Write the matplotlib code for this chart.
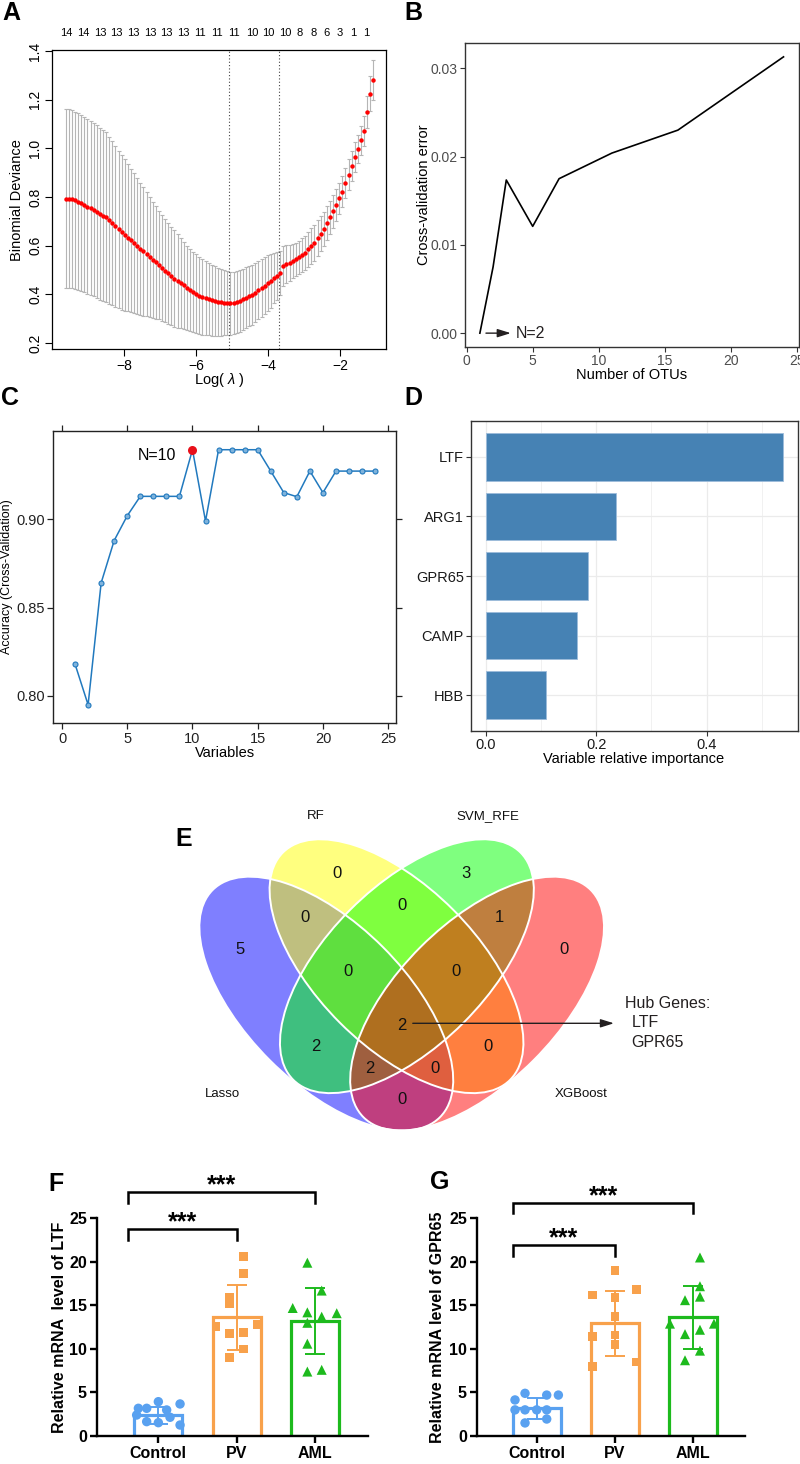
import numpy as np
import matplotlib
matplotlib.use("Agg")
import matplotlib.pyplot as plt
from matplotlib.patches import Ellipse
from matplotlib.transforms import blended_transform_factory

plt.rcParams['font.family'] = ['Liberation Sans', 'DejaVu Sans']
plt.rcParams['mathtext.fontset'] = 'custom'
plt.rcParams['mathtext.it'] = 'Liberation Sans:italic'
plt.rcParams['mathtext.rm'] = 'Liberation Sans'

# =====================================================
# DATA
# =====================================================

# A - lasso cross-validation path (100 lambda values, log scale grid)
lasso_loglam = np.linspace(-9.62, -1.07, 100)
lasso_mean = [
    0.793, 0.793, 0.791, 0.786, 0.780, 0.774, 0.767, 0.760, 0.754, 0.748,
    0.739, 0.731, 0.723, 0.716, 0.704, 0.691, 0.679, 0.666, 0.654, 0.643,
    0.632, 0.621, 0.609, 0.598, 0.587, 0.576, 0.565, 0.553, 0.542, 0.531,
    0.520, 0.509, 0.497, 0.486, 0.475, 0.464, 0.455, 0.445, 0.436, 0.426,
    0.418, 0.410, 0.402, 0.394, 0.389, 0.385, 0.380, 0.375, 0.372, 0.369,
    0.367, 0.365, 0.363, 0.362, 0.364, 0.368, 0.373, 0.379, 0.385, 0.392,
    0.398, 0.406, 0.416, 0.426, 0.435, 0.445, 0.455, 0.465, 0.475, 0.486,
    0.516, 0.523, 0.529, 0.536, 0.544, 0.552, 0.561, 0.571, 0.584, 0.597,
    0.611, 0.630, 0.649, 0.668, 0.693, 0.717, 0.741, 0.768, 0.795, 0.822,
    0.856, 0.892, 0.928, 0.963, 0.997, 1.033, 1.070, 1.150, 1.225, 1.281,
]
lasso_se = [
    0.369, 0.369, 0.367, 0.365, 0.363, 0.362, 0.360, 0.359, 0.358, 0.356,
    0.355, 0.353, 0.351, 0.349, 0.344, 0.337, 0.331, 0.324, 0.318, 0.311,
    0.303, 0.295, 0.288, 0.280, 0.272, 0.264, 0.255, 0.247, 0.239, 0.231,
    0.223, 0.218, 0.213, 0.208, 0.203, 0.198, 0.192, 0.185, 0.179, 0.173,
    0.168, 0.165, 0.162, 0.159, 0.156, 0.152, 0.149, 0.145, 0.142, 0.140,
    0.137, 0.134, 0.131, 0.129, 0.128, 0.128, 0.127, 0.126, 0.125, 0.124,
    0.123, 0.122, 0.120, 0.119, 0.117, 0.116, 0.110, 0.103, 0.097, 0.090,
    0.082, 0.079, 0.075, 0.071, 0.068, 0.068, 0.069, 0.070, 0.072, 0.074,
    0.075, 0.074, 0.072, 0.070, 0.069, 0.068, 0.068, 0.066, 0.064, 0.062,
    0.062, 0.062, 0.062, 0.061, 0.059, 0.060, 0.062, 0.066, 0.071, 0.082,
]
lam_min_log = -5.08
lam_1se_log = -3.69
top_pos = [-9.59, -9.13, -8.67, -8.20, -7.74, -7.28, -6.81, -6.35, -5.89, -5.43,
           -4.96, -4.45, -3.99, -3.53, -3.11, -2.74, -2.37, -2.00, -1.63, -1.26]
top_nonzero = [14, 14, 13, 13, 13, 13, 13, 13, 11, 11, 11, 10, 10, 10, 8, 8, 6, 3, 1, 1]

# B - cross-validation error vs number of features
otu_n = [1, 2, 3, 5, 7, 11, 16, 24]
cv_error = [0.0, 0.0075, 0.01735, 0.0121, 0.0175, 0.0204, 0.0230, 0.0313]

# C - accuracy vs number of variables
n_vars = list(range(1, 25))
accuracy = [0.818, 0.795, 0.864, 0.888, 0.902, 0.913, 0.913, 0.913, 0.913, 0.9394,
            0.899, 0.9394, 0.9394, 0.9394, 0.9394, 0.9273, 0.9151, 0.9128, 0.9273, 0.9151,
            0.9273, 0.9273, 0.9273, 0.9273]
best_n = 10

# D - variable importance
imp_genes = ['HBB', 'CAMP', 'GPR65', 'ARG1', 'LTF']
imp_values = [0.109, 0.165, 0.186, 0.2365, 0.539]

# E - Venn
venn_sets = ['Lasso', 'RF', 'SVM_RFE', 'XGBoost']
venn_counts = [0, 3, 0, 0, 1, 5, 0, 0, 0, 2, 2, 0, 2, 0, 0]
hub_genes = ['LTF', 'GPR65']

# F / G - qPCR
groups = ['Control', 'PV', 'AML']
ltf_mean = [2.38, 13.64, 13.2]
ltf_sd = [1.0, 3.72, 3.83]
ltf_points = [
    [3.94, 3.68, 3.18, 3.18, 2.99, 2.41, 2.15, 1.65, 1.53, 1.26],
    [20.6, 18.7, 15.9, 15.2, 12.6, 12.8, 11.8, 11.9, 10.0, 9.05],
    [19.9, 16.7, 14.7, 14.2, 13.7, 14.1, 13.0, 10.6, 7.4, 7.6],
]
gpr65_mean = [3.2, 12.95, 13.64]
gpr65_sd = [1.22, 3.72, 3.6]
gpr65_points = [
    [4.14, 4.9, 4.7, 4.7, 3.0, 3.0, 3.0, 3.0, 1.5, 1.95],
    [19.0, 16.2, 15.9, 16.8, 13.7, 11.4, 11.6, 10.5, 8.0, 8.5],
    [20.5, 17.2, 16.0, 15.6, 12.9, 12.9, 12.2, 11.7, 9.8, 8.7],
]

# =====================================================
# LAYOUT HELPERS
# =====================================================

W, H = 800, 1464
fig = plt.figure(figsize=(W / 100, H / 100), dpi=100)


def add_ax(left, top, right, bottom):
    return fig.add_axes([left / W, 1 - bottom / H, (right - left) / W, (bottom - top) / H])


def ftext(x, y, s, **kw):
    kw.setdefault('ha', 'center')
    kw.setdefault('va', 'center')
    return fig.text(x / W, 1 - y / H, s, **kw)


for letter, (lx, ly) in zip('ABCDEFG', [(11, 13), (413, 13), (10, 398), (413, 398),
                                        (184, 839), (56, 1184), (440, 1182)]):
    ftext(lx, ly, letter, fontsize=18, fontweight='bold')

# =====================================================
# A
# =====================================================
axA = add_ax(52, 50, 386, 349)
axA.errorbar(lasso_loglam, lasso_mean, yerr=lasso_se, fmt='none', ecolor='#B5B5B5',
             elinewidth=0.8, capsize=1.6, capthick=0.8, zorder=1)
axA.plot(lasso_loglam, lasso_mean, 'o', color='#FF0000', ms=3.2, mec='none', zorder=3)
for v in (lam_min_log, lam_1se_log):
    axA.axvline(v, color='#444444', ls=(0, (1, 2)), lw=0.8, zorder=2)
axA.set_xlim(-10.0, -0.722)
axA.set_ylim(0.1746, 1.404)
axA.set_xticks([-8, -6, -4, -2])
axA.set_yticks([0.2, 0.4, 0.6, 0.8, 1.0, 1.2, 1.4])
axA.set_yticklabels(['0.2', '0.4', '0.6', '0.8', '1.0', '1.2', '1.4'], rotation=90, va='center')
axA.tick_params(direction='out', length=5, width=0.8, labelsize=10, pad=2)
for sp in axA.spines.values():
    sp.set_linewidth(0.9)
trA = blended_transform_factory(axA.transData, axA.transAxes)
for p, n in zip(top_pos, top_nonzero):
    axA.text(p, 1.057, str(n), transform=trA, ha='center', va='center', fontsize=8)
ftext(17, 200, 'Binomial Deviance', rotation=90, fontsize=10.5)
ftext(219, 380, 'Log( $\\lambda$ )', fontsize=10.5)

# =====================================================
# B
# =====================================================
axB = add_ax(464.7, 43, 798.7, 347)
axB.plot(otu_n, cv_error, color='black', lw=1.2)
axB.set_xlim(-0.15, 25.15)
axB.set_ylim(-0.00157, 0.03287)
axB.set_xticks([0, 5, 10, 15, 20, 25])
axB.set_yticks([0.0, 0.01, 0.02, 0.03])
axB.set_yticklabels(['0.00', '0.01', '0.02', '0.03'])
axB.tick_params(direction='out', length=3.5, width=0.8, colors='#333333',
                labelcolor='#4D4D4D', labelsize=10, pad=1.5)
for sp in axB.spines.values():
    sp.set_color('#333333')
    sp.set_linewidth(1.0)
axB.annotate('', xy=(3.55, 0), xytext=(1.25, 0),
             arrowprops=dict(arrowstyle='-|>,head_length=0.8,head_width=0.25',
                             color='#231F20', lw=1.0))
axB.text(3.75, 0, 'N=2', ha='left', va='center', fontsize=11.5, color='#231F20')
ftext(424, 195, 'Cross-validation error', rotation=90, fontsize=10.5)
ftext(632, 375, 'Number of OTUs', fontsize=10.5)

# =====================================================
# C
# =====================================================
axC = add_ax(53, 431, 396, 723.3)
blue_c = '#2179BE'
axC.plot(n_vars, accuracy, '-o', color=blue_c, lw=1.1, ms=3.6, mfc='#7FB3DC',
         mec=blue_c, mew=0.8)
axC.plot(best_n, accuracy[best_n - 1], 'o', color='#E8101A', ms=6.5, mec='none')
axC.text(7.3, 0.9362, 'N=10', ha='center', va='center', fontsize=11.5)
axC.set_xlim(-0.69, 25.6)
axC.set_ylim(0.7845, 0.95)
axC.set_xticks([0, 5, 10, 15, 20, 25])
axC.set_yticks([0.80, 0.85, 0.90])
axC.set_yticklabels(['0.80', '0.85', '0.90'])
axC.tick_params(direction='out', length=4.5, width=0.9, labelsize=10.5, pad=1.5,
                top=True, right=True, labeltop=False, labelright=False, colors='#222222')
for sp in axC.spines.values():
    sp.set_linewidth(1.0)
    sp.set_color('#222222')
ftext(7, 577, 'Accuracy (Cross-Validation)', rotation=90, fontsize=9)
ftext(225, 753, 'Variables', fontsize=10.5)

# =====================================================
# D
# =====================================================
axD = add_ax(470.7, 421, 798.3, 731)
ypos = np.arange(1, len(imp_genes) + 1)
axD.set_axisbelow(True)
axD.set_xticks([0.0, 0.2, 0.4])
axD.set_xticks([0.1, 0.3, 0.5], minor=True)
axD.grid(which='major', color='#EBEBEB', lw=0.9)
axD.grid(which='minor', axis='x', color='#EBEBEB', lw=0.5)
axD.barh(ypos, imp_values, height=0.8, color='#4682B4', edgecolor='#9DBCDB', linewidth=0.6)
axD.set_yticks(ypos)
axD.set_yticklabels(imp_genes)
axD.set_xticklabels(['0.0', '0.2', '0.4'])
axD.set_xlim(-0.027, 0.566)
axD.set_ylim(0.4, 5.6)
axD.tick_params(which='major', direction='out', length=3.5, width=0.8, colors='#333333',
                labelcolor='#1A1A1A', labelsize=10.5, pad=1.5)
axD.tick_params(which='minor', length=0)
for sp in axD.spines.values():
    sp.set_color('#333333')
    sp.set_linewidth(1.0)
ftext(634, 759, 'Variable relative importance', fontsize=10.5)

# =====================================================
# E - four-set Venn (drawn in pixel units, y downwards)
# =====================================================
axE = add_ax(130, 795, 800, 1160)
axE.set_xlim(130, 800)
axE.set_ylim(1160, 795)
axE.axis('off')
ell_a, ell_b = 160.7, 80.0
ell_centers = [(326.3, 1003.6), (396.5, 966.2), (406.9, 966.2), (477.1, 1003.6)]
ell_angles = [45, 45, -45, -45]
ell_colors = ['#0000FF', '#FFFF00', '#00FF00', '#FF0000']
for (cx, cy), ang, col in zip(ell_centers, ell_angles, ell_colors):
    axE.add_patch(Ellipse((cx, cy), 2 * ell_a, 2 * ell_b, angle=ang,
                          facecolor=col, alpha=0.5, edgecolor='none'))
for (cx, cy), ang in zip(ell_centers, ell_angles):
    axE.add_patch(Ellipse((cx, cy), 2 * ell_a, 2 * ell_b, angle=ang,
                          fill=False, edgecolor='white', lw=1.4))
count_pos = [(336.7, 873.3), (466, 873.3), (305, 917.3), (401.7, 906), (499.3, 917.3),
             (240, 949.3), (564, 949.3), (348.3, 971.7), (456, 971.7), (401.7, 1025),
             (316, 1046.7), (488.3, 1046.7), (370, 1068.3), (435, 1068.3), (401.7, 1100)]
for (px, py), c in zip(count_pos, venn_counts):
    axE.text(px, py, str(c), ha='center', va='center', fontsize=12, color='#111111')
set_label_pos = [(222.3, 1094), (315.4, 816), (487.9, 816), (581, 1094)]
for (px, py), s in zip(set_label_pos, venn_sets):
    axE.text(px, py, s, ha='center', va='center', fontsize=9.5, color='#111111')
axE.annotate('', xy=(616.7, 1023.3), xytext=(410, 1023.3),
             arrowprops=dict(arrowstyle='-|>,head_length=0.8,head_width=0.25',
                             color='#231F20', lw=1.0))
axE.text(625, 1003.3, 'Hub Genes:', ha='left', va='center', fontsize=11.5, color='#231F20')
for i, g in enumerate(hub_genes):
    axE.text(631.7, 1022.3 + 20 * i, g, ha='left', va='center', fontsize=11.5, color='#231F20')

# =====================================================
# F / G - qPCR bars
# =====================================================
grp_colors = ['#59A1F0', '#F8A14B', '#1DBA1D']
grp_markers = ['o', 's', '^']
grp_msize = [46, 40, 52]
jitter_F = [
    [0.0, 0.277, -0.255, -0.149, 0.106, -0.277, 0.149, -0.149, 0.0, 0.277],
    [0.085, 0.085, -0.094, -0.094, -0.264, 0.264, -0.094, 0.085, 0.085, -0.094],
    [-0.098, 0.085, -0.285, -0.098, 0.085, 0.277, -0.098, -0.098, -0.098, 0.085],
]
jitter_G = [
    [-0.277, -0.149, 0.128, 0.277, -0.277, -0.149, 0.0, 0.128, -0.149, 0.128],
    [0.0, -0.285, 0.0, 0.277, 0.0, -0.285, 0.0, 0.0, -0.285, 0.277],
    [0.085, 0.085, 0.085, -0.106, -0.298, 0.264, 0.085, -0.106, 0.085, -0.106],
]


def qpcr_panel(rect, xlim, means, sds, points, jitter, brackets, ylabel, ylab_x):
    ax = add_ax(*rect)
    xs = np.arange(len(groups))
    ax.bar(xs, means, width=0.61, facecolor='white', edgecolor=grp_colors, linewidth=2.3, zorder=2)
    for i in xs:
        ax.errorbar(i, means[i], yerr=sds[i], color=grp_colors[i], lw=1.4,
                    capsize=7, capthick=1.4, zorder=3)
        ax.scatter(i + np.array(jitter[i]), points[i], marker=grp_markers[i], s=grp_msize[i],
                   color=grp_colors[i], edgecolors='none', zorder=4)
    ax.set_xlim(*xlim)
    ax.set_ylim(0, 25)
    ax.set_yticks([0, 5, 10, 15, 20, 25])
    ax.set_xticks(xs)
    ax.set_xticklabels(groups, fontweight='bold', fontsize=11.5)
    for lab in ax.get_yticklabels():
        lab.set_fontweight('bold')
    ax.tick_params(direction='out', length=5, width=1.7, labelsize=11.5, pad=2)
    for side in ('top', 'right'):
        ax.spines[side].set_visible(False)
    for side in ('left', 'bottom'):
        ax.spines[side].set_linewidth(1.7)
    ax.spines['left'].set_bounds(0, 25)
    for x0, x1, ytop, ydrop in brackets:
        ax.plot([x0, x0, x1, x1], [ydrop, ytop, ytop, ydrop], color='black', lw=1.8,
                clip_on=False, solid_joinstyle='miter')
        ax.text((x0 + x1) / 2, ytop, '***', ha='center', va='baseline', fontsize=18,
                fontweight='bold', clip_on=False)
    ycen = (rect[1] + rect[3]) / 2
    ftext(ylab_x, ycen, ylabel, rotation=90, fontsize=11.5, fontweight='bold')
    return ax


qpcr_panel((96.7, 1218.3, 368.3, 1436), (-0.787, 2.68), ltf_mean, ltf_sd, ltf_points, jitter_F,
           [(-0.383, 1.0, 23.75, 22.5), (-0.383, 2.0, 28.0, 26.75)],
           'Relative mRNA  level of LTF', 60)
qpcr_panel((476.7, 1218.3, 745, 1436), (-0.766, 2.66), gpr65_mean, gpr65_sd, gpr65_points, jitter_G,
           [(-0.306, 1.0, 21.9, 20.7), (-0.306, 2.0, 26.75, 25.6)],
           'Relative mRNA level of GPR65', 438)

fig.savefig('out.png', dpi=100)
